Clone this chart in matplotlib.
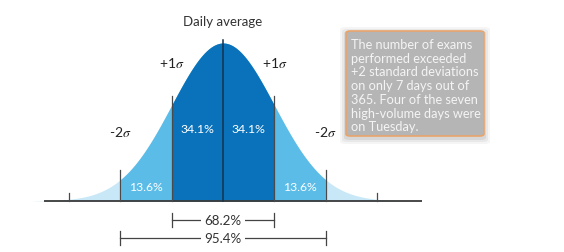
import matplotlib
matplotlib.use("Agg")
import matplotlib.pyplot as plt
import numpy as np
from matplotlib.patches import FancyBboxPatch

plt.rcParams['font.family'] = ['Lato', 'DejaVu Sans']
plt.rcParams['mathtext.fontset'] = 'stix'

# data
bounds = [-3, -2, -1, 0, 1, 2, 3]
band_share = ["13.6%", "34.1%", "34.1%", "13.6%"]
band_centers = [-1.5, -0.5, 0.5, 1.5]
sigma_labels = ["-2$\\sigma$", "+1$\\sigma$", "+1$\\sigma$", "-2$\\sigma$"]
sigma_label_x = [-2, -1, 1, 2]
range_labels = ["68.2%", "95.4%"]
range_halfwidth = [1, 2]
note_lines = ["The number of exams", "performed exceeded", "+2 standard deviations",
              "on only 7 days out of", "365. Four of the seven", "high-volume days were",
              "on Tuesday."]

dark = "#0a72bb"
mid = "#5bbce8"
light = "#c9e8f7"

def pdf(x):
    return np.exp(-x ** 2 / 2) / np.sqrt(2 * np.pi)

k = 158 / pdf(0)  # pixels per y unit
fig = plt.figure(figsize=(5.64, 2.53), dpi=100)
ax = fig.add_axes([0, 0, 1, 1])
ax.set_xlim(-223 / 51.3, (564 - 223) / 51.3)
ax.set_ylim(-51 / k, 202 / k)
ax.axis('off')

x = np.linspace(-3.7, 3.7, 800)
y = pdf(x)
ax.fill_between(x, 0, y, color=light, lw=0)
ax.fill_between(x, 0, y, where=np.abs(x) <= 2, color=mid, lw=0)
ax.fill_between(x, 0, y, where=np.abs(x) <= 1, color=dark, lw=0)

ax.plot([-3.49, 3.87], [0, 0], color="#3a3a3a", lw=1.3, solid_capstyle='butt')

# vertical markers
extra = {0: 3.5, 1: 9, 2: 10, 3: 6.5}
for b in bounds:
    top = pdf(b) + extra[abs(b)] / k
    col = "#17324d" if b == 0 else "#4a4a4a"
    ax.plot([b, b], [0, top], color=col, lw=1.1 if b == 0 else 0.9)

ax.text(0, 180 / k, "Daily average", ha='center', va='center', fontsize=9.5, color="#333333")
for lx, lab in zip(sigma_label_x, sigma_labels):
    ly = 139 / k if abs(lx) == 1 else 70 / k
    ax.text(lx, ly, lab, ha='center', va='center', fontsize=10, color="#222222")

for cx, lab in zip(band_centers, band_share):
    cy = 72 / k if abs(cx) < 1 else 14 / k
    ax.text(cx, cy, lab, ha='center', va='center', fontsize=8.8, color="white")

# range brackets
for i, (lab, hw) in enumerate(zip(range_labels, range_halfwidth)):
    yy = -(19 + 18 * i) / k
    tk = 7 / k
    ax.plot([-hw, hw], [yy, yy], color="#444444", lw=0.9, zorder=1)
    ax.plot([-hw, -hw], [yy - tk, yy + tk], color="#444444", lw=0.9)
    ax.plot([hw, hw], [yy - tk, yy + tk], color="#444444", lw=0.9)
    ax.text(0, yy, lab, ha='center', va='center', fontsize=9.6, color="#333333",
            bbox=dict(facecolor='white', edgecolor='none', pad=2.5), zorder=3)

# note box with soft shadow
W, H = 564, 253
bx0, by0, bx1, by1 = 346, 32, 484, 137
for i, a in enumerate([0.04, 0.05, 0.07]):
    g = 6 - 2 * i
    sh = FancyBboxPatch(((bx0 - g) / W, 1 - (by1 + g + 2) / H), (bx1 - bx0 + 2 * g) / W,
                        (by1 - by0 + 2 * g) / H, boxstyle="round,pad=0,rounding_size=0.01",
                        transform=fig.transFigure, facecolor='black', edgecolor='none', alpha=a)
    fig.patches.append(sh)
box = FancyBboxPatch((bx0 / W, 1 - by1 / H), (bx1 - bx0) / W, (by1 - by0) / H,
                     boxstyle="round,pad=0,rounding_size=0.008", transform=fig.transFigure,
                     facecolor="#b5b5b5", edgecolor="#e9a46c", lw=1.2)
fig.patches.append(box)
for i, line in enumerate(note_lines):
    fig.text(351 / W, 1 - (45 + 13.7 * i) / H, line, ha='left', va='center',
             fontsize=9.2, color="#f4f4f4")

fig.savefig("out.png", dpi=100)
